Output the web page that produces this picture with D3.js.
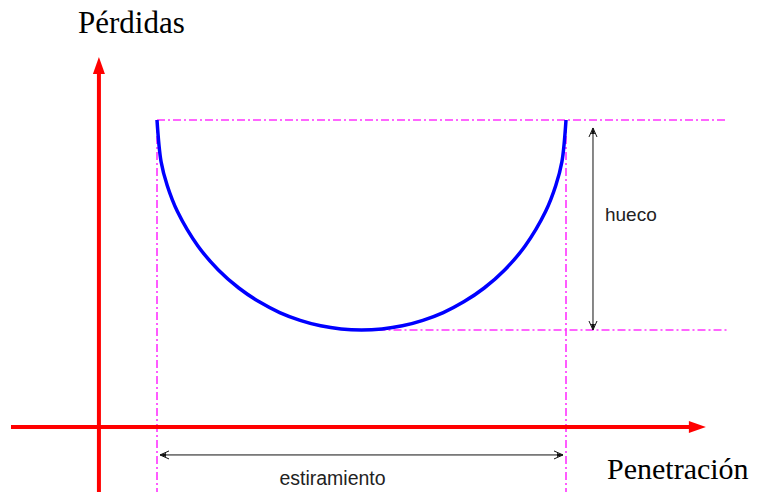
<!DOCTYPE html>
<html lang="es">
<head>
<meta charset="UTF-8">
<title>Pérdidas vs Penetración</title>
<script src="https://d3js.org/d3.v7.min.js"></script>
<style>
  body { margin: 0; background: #fff; }
  svg { display: block; }
</style>
</head>
<body>
<svg></svg>
<script>
  // curva de pérdidas, unidades arbitrarias
  const penetracion = [0, 0.1, 0.25, 0.5, 1, 1.5, 2, 2.5, 3, 3.5, 4, 4.5, 5,
                       5.5, 6, 6.5, 7, 7.5, 8, 8.5, 9, 9.5, 9.75, 9.9, 10]
  const perdidas = [10, 8.01, 6.88, 5.64, 4.0, 2.86, 2.0, 1.34, 0.83, 0.46, 0.2, 0.05, 0,
                    0.05, 0.2, 0.46, 0.83, 1.34, 2.0, 2.86, 4.0, 5.64, 6.88, 8.01, 10]

  // ejes y guias en las mismas unidades
  const origen = [-1.42, -4.62]
  const ejeX = [-3.57, 13.42]
  const ejeY = [-7.8, 13.0]
  const guiaFin = 13.94
  const huecoX = 10.66
  const huecoTope = 9.62
  const estiramientoY = -5.95

  const etiquetas = { y: 'Pérdidas', x: 'Penetración', hueco: 'hueco', estiramiento: 'estiramiento' }

  const width = 760
  const height = 492

  const x = d3.scaleLinear().domain([0, 10]).range([157, 566])
  const y = d3.scaleLinear().domain([0, 10]).range([330, 120])

  const svg = d3.select('svg')
    .attr('width', width)
    .attr('height', height)

  // lineas guia magenta (punto y raya)
  const guias = [
    [[0, 10], [guiaFin, 10]],
    [[5, 0], [guiaFin, 0]],
    [[0, 10], [0, ejeY[0]]],
    [[10, 10], [10, ejeY[0]]]
  ]
  svg.append('g')
    .selectAll('line')
    .data(guias)
    .join('line')
    .attr('x1', d => x(d[0][0]))
    .attr('y1', d => y(d[0][1]))
    .attr('x2', d => x(d[1][0]))
    .attr('y2', d => y(d[1][1]))
    .attr('stroke', '#ff33ff')
    .attr('stroke-width', 1.6)
    .attr('stroke-dasharray', '8,3,2,3')

  // ejes rojos
  const ejes = svg.append('g')
  ejes.append('line')
    .attr('x1', x(ejeX[0])).attr('y1', y(origen[1]))
    .attr('x2', x(ejeX[1]) - 10).attr('y2', y(origen[1]))
    .attr('stroke', 'red').attr('stroke-width', 4)
  ejes.append('line')
    .attr('x1', x(origen[0])).attr('y1', y(ejeY[0]))
    .attr('x2', x(origen[0])).attr('y2', y(ejeY[1]) + 10)
    .attr('stroke', 'red').attr('stroke-width', 4)

  const tx = x(ejeX[1]), ty = y(origen[1])
  ejes.append('path')
    .attr('d', `M${tx},${ty} L${tx - 17},${ty - 6} L${tx - 17},${ty + 6} Z`)
    .attr('fill', 'red')
  const ux = x(origen[0]), uy = y(ejeY[1])
  ejes.append('path')
    .attr('d', `M${ux},${uy} L${ux - 6},${uy + 17} L${ux + 6},${uy + 17} Z`)
    .attr('fill', 'red')

  // curva azul
  const line = d3.line()
    .x(d => x(d[0]))
    .y(d => y(d[1]))
    .curve(d3.curveCatmullRom.alpha(0.5))

  svg.append('path')
    .datum(d3.zip(penetracion, perdidas))
    .attr('d', line)
    .attr('fill', 'none')
    .attr('stroke', '#0000ff')
    .attr('stroke-width', 3.5)

  // flechas de cota negras
  function punta(g, px, py, dx, dy) {
    // dx, dy: direccion hacia la punta
    const nx = -dy, ny = dx
    g.append('path')
      .attr('d', `M${px - dx * 9 + nx * 4},${py - dy * 9 + ny * 4} L${px},${py} L${px - dx * 9 - nx * 4},${py - dy * 9 - ny * 4}`)
      .attr('fill', 'none').attr('stroke', '#111').attr('stroke-width', 1)
    g.append('path')
      .attr('d', `M${px},${py} L${px - dx * 6 + nx * 2},${py - dy * 6 + ny * 2} L${px - dx * 6 - nx * 2},${py - dy * 6 - ny * 2} Z`)
      .attr('fill', '#111')
  }

  const cotas = svg.append('g')
  const hx = x(huecoX)
  cotas.append('line')
    .attr('x1', hx).attr('y1', y(huecoTope))
    .attr('x2', hx).attr('y2', y(0))
    .attr('stroke', '#111').attr('stroke-width', 1)
  punta(cotas, hx, y(huecoTope), 0, -1)
  punta(cotas, hx, y(0), 0, 1)

  const ey = y(estiramientoY)
  cotas.append('line')
    .attr('x1', x(0) + 3).attr('y1', ey)
    .attr('x2', x(10) - 3).attr('y2', ey)
    .attr('stroke', '#111').attr('stroke-width', 1)
  punta(cotas, x(0) + 3, ey, -1, 0)
  punta(cotas, x(10) - 3, ey, 1, 0)

  // textos
  svg.append('text')
    .attr('x', 78).attr('y', 33)
    .style('font-family', '"Liberation Serif", "Times New Roman", serif')
    .style('font-size', '31px')
    .text(etiquetas.y)

  svg.append('text')
    .attr('x', 607).attr('y', 479)
    .style('font-family', '"Liberation Serif", "Times New Roman", serif')
    .style('font-size', '30px')
    .text(etiquetas.x)

  svg.append('text')
    .attr('x', hx + 12).attr('y', 221)
    .style('font-family', '"Liberation Sans", Arial, sans-serif')
    .style('font-size', '19px')
    .attr('fill', '#222')
    .text(etiquetas.hueco)

  svg.append('text')
    .attr('x', x(5) - 29).attr('y', 485)
    .attr('text-anchor', 'middle')
    .style('font-family', '"Liberation Sans", Arial, sans-serif')
    .style('font-size', '19.5px')
    .attr('fill', '#222')
    .text(etiquetas.estiramiento)
</script>
</body>
</html>
